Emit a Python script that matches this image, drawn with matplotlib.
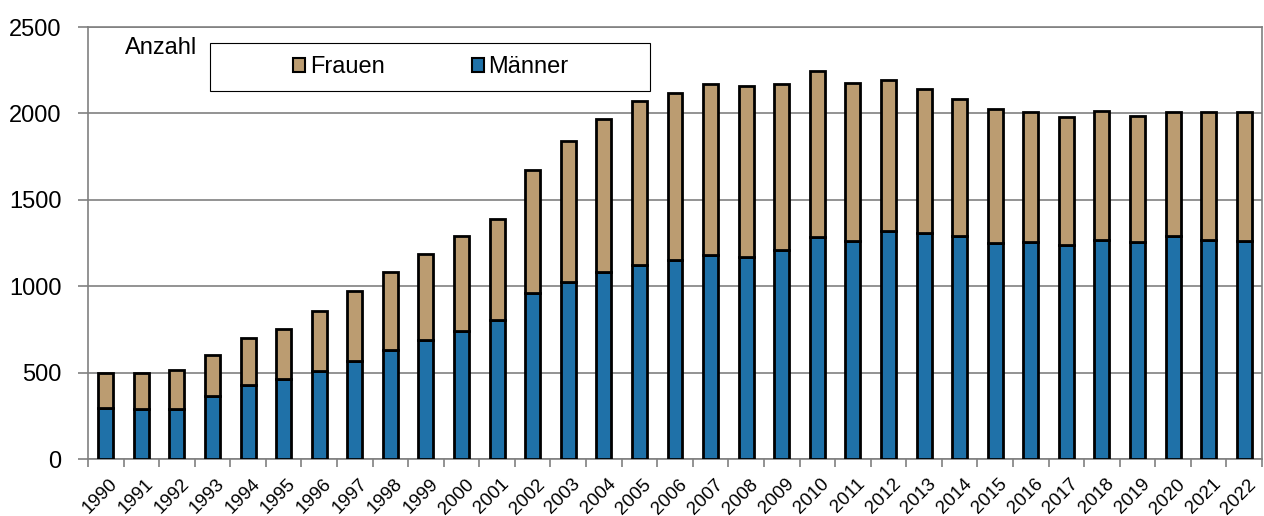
import matplotlib.pyplot as plt
import numpy as np
from matplotlib.patches import Patch, Rectangle

plt.rcParams['font.family'] = ['Liberation Sans', 'DejaVu Sans']

jahre = [str(j) for j in range(1990, 2023)]
maenner = [297, 289, 289, 362, 426, 461, 510, 566, 630, 690,
           742, 804, 959, 1023, 1081, 1124, 1152, 1180, 1168, 1210,
           1284, 1261, 1317, 1307, 1288, 1249, 1255, 1237, 1270, 1257,
           1293, 1266, 1263]
frauen = [200, 211, 228, 237, 276, 293, 345, 407, 455, 496,
          548, 586, 713, 817, 884, 945, 966, 988, 992, 960,
          963, 913, 874, 832, 797, 778, 755, 744, 744, 726,
          713, 740, 743]

blau = '#1f71a8'
braun = '#bb9c71'
grau = '#808080'

fig = plt.figure(figsize=(12.64, 5.16), dpi=100)
ax = fig.add_axes([88 / 1264, 1 - 459 / 516, 1174 / 1264, 432 / 516])

x = np.arange(len(jahre))
ax.bar(x, maenner, width=0.42, color=blau, edgecolor='black', linewidth=2.0, zorder=3)
ax.bar(x, frauen, width=0.42, bottom=maenner, color=braun, edgecolor='black',
       linewidth=2.0, zorder=3)

ax.set_xlim(-0.5, len(jahre) - 0.5)
ax.set_ylim(0, 2500)
ax.set_yticks([0, 500, 1000, 1500, 2000, 2500])
ax.yaxis.grid(True, color=grau, linewidth=1.2, zorder=0)
ax.set_axisbelow(True)

for s in ax.spines.values():
    s.set_color(grau)
    s.set_linewidth(1.2)

ax.tick_params(axis='y', labelsize=17, length=7, width=1.2, color=grau, pad=12)
ax.set_xticks(x + 0.1)
ax.set_xticklabels(jahre, rotation=45, ha='right', rotation_mode='anchor', fontsize=13.5)
ax.tick_params(axis='x', which='major', length=0, pad=12)
ax.set_xticks(np.arange(-0.5, len(jahre)), minor=True)
ax.tick_params(axis='x', which='minor', length=6, width=1.2, color=grau)

# Legendenrahmen und Einträge
ax.add_patch(Rectangle((0.104, 0.852), 0.375, 0.111, transform=ax.transAxes,
                       facecolor='white', edgecolor='black', linewidth=0.8, zorder=4))
handles = [Patch(facecolor=braun, edgecolor='black', linewidth=1.5, label='Frauen'),
           Patch(facecolor=blau, edgecolor='black', linewidth=1.5, label='Männer')]
leg = ax.legend(handles=handles, loc='center', bbox_to_anchor=(0.292, 0.907), ncol=2,
                frameon=False, fontsize=17, handlelength=0.5, handleheight=0.5,
                handletextpad=0.2, columnspacing=3.7, borderpad=0)
leg.set_zorder(5)

ax.text(0.0315, 0.951, 'Anzahl', transform=ax.transAxes, fontsize=17, va='center', ha='left')

fig.savefig('out.png', dpi=100)
